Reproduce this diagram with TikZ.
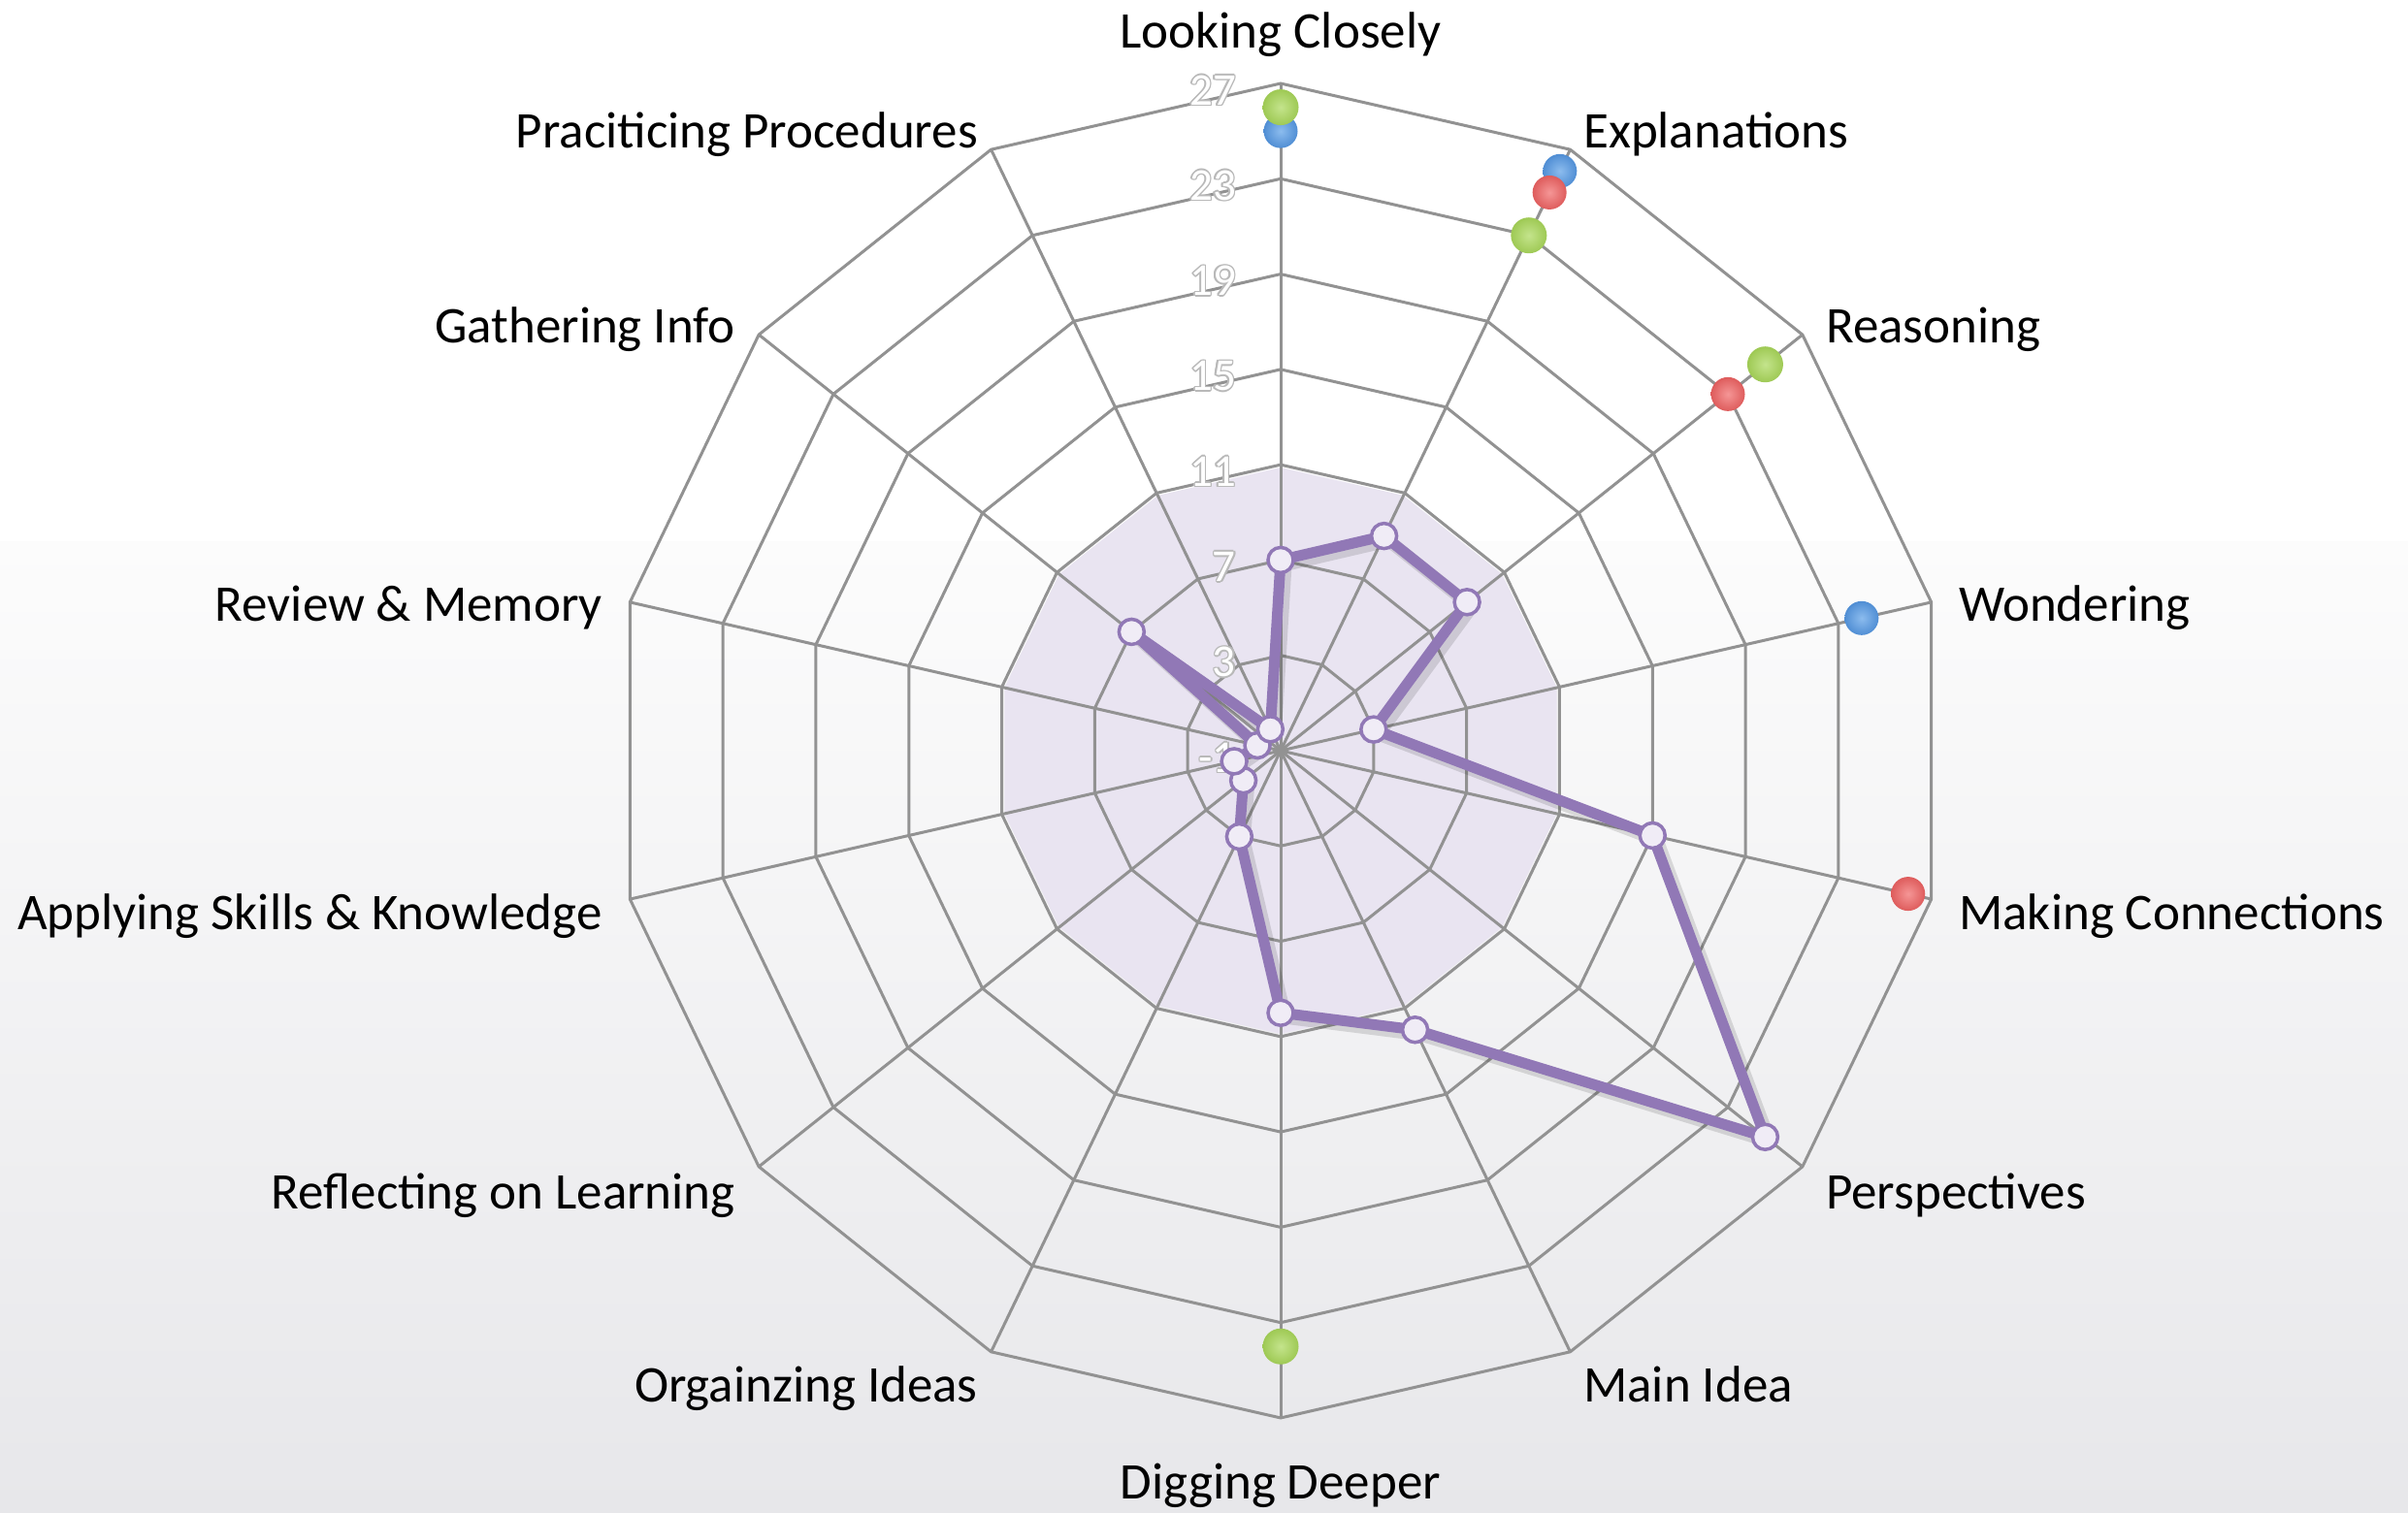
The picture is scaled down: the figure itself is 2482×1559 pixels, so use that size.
\documentclass[tikz,border=0pt]{standalone}
\usepackage{fontspec}
\setmainfont{Carlito}
\usetikzlibrary{calc}
\definecolor{gridc}{RGB}{146,146,146}
\definecolor{shadec}{RGB}{233,228,241}
\definecolor{purp}{RGB}{145,120,182}
\definecolor{mkfill}{RGB}{240,236,246}
\definecolor{gbase}{RGB}{158,201,84}
\definecolor{glight}{RGB}{196,228,140}
\definecolor{bbase}{RGB}{80,142,212}
\definecolor{blight}{RGB}{140,188,238}
\definecolor{rbase}{RGB}{222,92,92}
\definecolor{rlight}{RGB}{245,150,150}
\definecolor{bgtop}{RGB}{252,252,252}
\definecolor{bgbot}{RGB}{231,231,234}
\tikzset{
  gridline/.style={draw=gridc, line width=3pt},
  dataline/.style={draw=purp, line width=11pt, line join=round},
  shadowline/.style={draw=black, opacity=0.12, line width=13pt, line join=round},
  mk/.style={circle, inner sep=0pt, minimum size=26pt, fill=mkfill, draw=purp, line width=3.5pt},
  gball/.style={circle, inner sep=0pt, minimum size=37pt, inner color=glight, outer color=gbase},
  bball/.style={circle, inner sep=0pt, minimum size=35pt, inner color=blight, outer color=bbase},
  rball/.style={circle, inner sep=0pt, minimum size=35pt, inner color=rlight, outer color=rbase},
  lab/.style={inner sep=0pt, font=\fontsize{53}{60}\selectfont, text=black},
  ticklab/.style={inner sep=0pt, font=\fontsize{47}{50}\selectfont, anchor=east},
}
\begin{document}
\begin{tikzpicture}[x=1pt,y=1pt]
\useasboundingbox (0,0) rectangle (2482,1559);
\fill[white] (0,0) rectangle (2482,1559);
\shade[top color=bgtop, bottom color=bgbot] (0,0) rectangle (2482,1000);

\begin{scope}[shift={(1320,785)}]
  \coordinate (O) at (0,0);
  % shaded area up to value 11
  \fill[shadec] (90:292) \foreach \k in {1,...,13}{ -- ({90-\k*360/14}:292) } -- cycle;
  % rings
  \foreach \v in {3,7,11,15,19,23,27}{
    \draw[gridline, line join=miter] (90:{(\v+1)*24.57}) \foreach \k in {1,...,13}{ -- ({90-\k*360/14}:{(\v+1)*24.57}) } -- cycle;
  }
  % spokes
  \foreach \k in {0,...,13}{
    \coordinate (V\k) at ({90-\k*360/14}:688);
    \draw[gridline] (O) -- (V\k);
  }
  % tick labels
  \foreach \v in {27,23,19,15,11,7,3,-1}{
    \foreach \dx/\dy in {-1.6/0,1.6/0,0/-1.6,0/1.6,-1.1/-1.1,1.1/1.1,-1.1/1.1,1.1/-1.1}{
      \node[ticklab, text=gray!55] at ({-46+\dx},{(\v+1)*24.57-7+\dy}) {\v};
    }
    \node[ticklab, text=white] (t\v) at (-46,{(\v+1)*24.57-7}) {\v};
  }
  % data series (purple)
  \foreach \v [count=\i from 0] in {7,9,9,3,15,25,12,10,3,1,1,0,7,0}{
    \coordinate (d\i) at ({90-\i*360/14}:{(\v+1)*24.57});
  }
  \draw[shadowline, transform canvas={shift={(5pt,-5pt)}}] (d0) \foreach \i in {1,...,13}{ -- (d\i) } -- cycle;
  \draw[dataline] (d0) \foreach \i in {1,...,13}{ -- (d\i) } -- cycle;
  \foreach \i in {0,...,13}{ \node[mk] (m\i) at (d\i) {}; }
  % other series: markers only
  \coordinate (b0) at (90:{26*24.57});
  \coordinate (b1) at ({90-1*360/14}:{27*24.57});
  \coordinate (b3) at ({90-3*360/14}:{25*24.57});
  \coordinate (r1) at ({90-1*360/14}:{26*24.57});
  \coordinate (r2) at ({90-2*360/14}:{24*24.57});
  \coordinate (r4) at ({90-4*360/14}:{27*24.57});
  \coordinate (g0) at (90:{27*24.57});
  \coordinate (g1) at ({90-1*360/14}:{24*24.57});
  \coordinate (g2) at ({90-2*360/14}:{26*24.57});
  \coordinate (g7) at ({90-7*360/14}:{25*24.57});
  \foreach \p in {b0,b1,b3}{ \node[bball] (n\p) at (\p) {}; }
  \foreach \p in {r1,r2,r4}{ \node[rball] (n\p) at (\p) {}; }
  \foreach \p in {g0,g1,g2,g7}{ \node[gball] (n\p) at (\p) {}; }
\end{scope}

% axis labels
\node[lab, anchor=base] (lLC) at (1320,1509) {Looking Closely};
\node[lab, anchor=base west] (lEx) at (1632,1406) {Explanations};
\node[lab, anchor=base west] (lRe) at (1882,1205) {Reasoning};
\node[lab, anchor=base west] (lWo) at (2019,918) {Wondering};
\node[lab, anchor=base west] (lMC) at (2019,600) {Making Connections};
\node[lab, anchor=base west] (lPe) at (1882,312) {Perspectives};
\node[lab, anchor=base west] (lMI) at (1632,114) {Main Idea};
\node[lab, anchor=base] (lDD) at (1320,14) {Digging Deeper};
\node[lab, anchor=base east] (lOI) at (1008,114) {Orgainzing Ideas};
\node[lab, anchor=base east] (lRL) at (758,312) {Reflecting on Learning};
\node[lab, anchor=base east] (lAS) at (621,600) {Applying Skills \& Knowledge};
\node[lab, anchor=base east] (lRM) at (621,918) {Review \& Memory};
\node[lab, anchor=base east] (lGI) at (758,1205) {Gathering Info};
\node[lab, anchor=base east] (lPP) at (1008,1406) {Praciticing Procedures};
\end{tikzpicture}
\end{document}
